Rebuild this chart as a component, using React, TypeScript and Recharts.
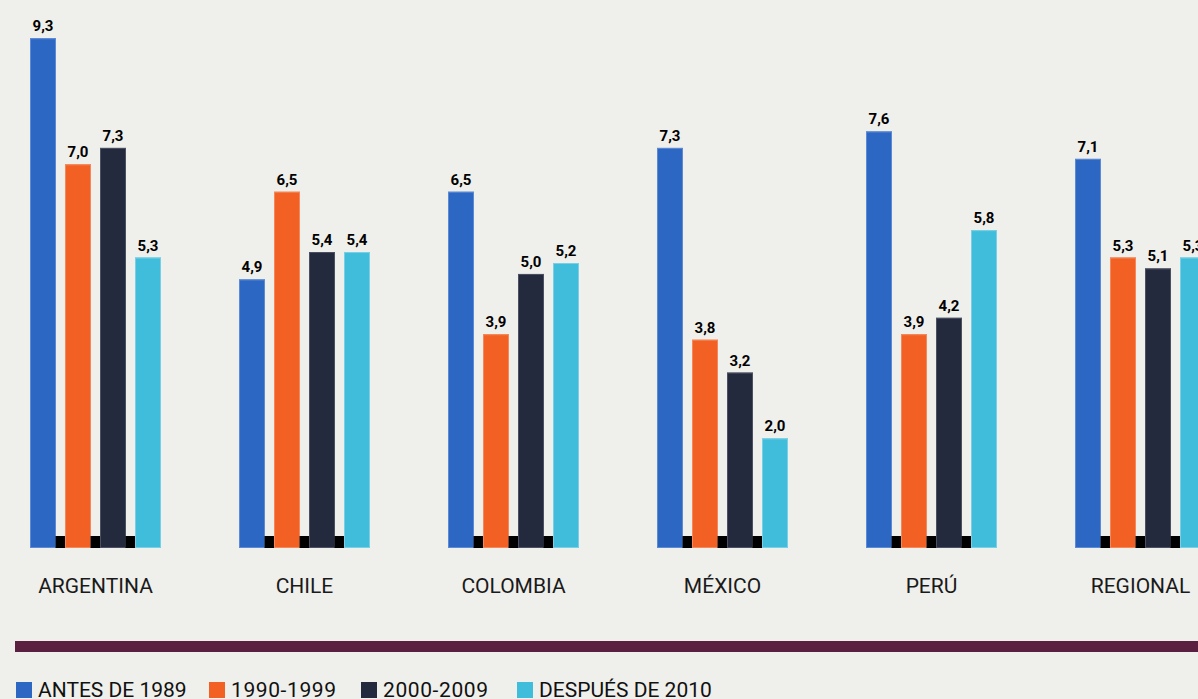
import React from 'react';
import { BarChart, Bar, XAxis, YAxis, LabelList } from 'recharts';

// Values
const countries = ['ARGENTINA', 'CHILE', 'COLOMBIA', 'MÉXICO', 'PERÚ', 'REGIONAL'];
const antes1989 = [9.3, 4.9, 6.5, 7.3, 7.6, 7.1];
const d1990 = [7.0, 6.5, 3.9, 3.8, 3.9, 5.3];
const d2000 = [7.3, 5.4, 5.0, 3.2, 4.2, 5.1];
const despues2010 = [5.3, 5.4, 5.2, 2.0, 5.8, 5.3];

const seriesNames = ['ANTES DE 1989', '1990-1999', '2000-2009', 'DESPUÉS DE 2010'];
const colors = ['#2d67c4', '#f26023', '#232a3d', '#41bddc'];
const edges = ['#5d8ad4', '#f5885a', '#4b5163', '#79d0e6'];

const data = countries.map((name, i) => ({
  name,
  s0: antes1989[i],
  s1: d1990[i],
  s2: d2000[i],
  s3: despues2010[i],
}));

const BAR_SIZE = 26;
const BAR_GAP = 9;
const FONT = 'Roboto, "Noto Sans", sans-serif';
// widths of the legend entries (square + text + spacing)
const legendWidths = [193, 152, 156, 200];

const fmt = (v: any) => Number(v).toFixed(1).replace('.', ',');

// bar with a small black block at its bottom-right (in the gap to the next bar)
const makeShape = (idx: number) => (props: any) => {
  const { x, y, width, height } = props;
  const base = y + height;
  return (
    <g>
      <rect x={x} y={y} width={width} height={height} fill={colors[idx]} />
      <rect x={x + 0.5} y={y + 0.5} width={width - 1} height={height - 1} fill="none" stroke={edges[idx]} strokeWidth={1} />
      {idx < 3 && <rect x={x + width - 0.5} y={base - 12} width={BAR_GAP + 1} height={12} fill="#000" />}
    </g>
  );
};

export default function App(): React.ReactElement {
  return (
    <div
      style={{
        position: 'fixed',
        left: 0,
        top: 0,
        width: 1198,
        height: 699,
        overflow: 'hidden',
        background: '#efefeb',
        fontFamily: FONT,
      }}
    >
      <div style={{ position: 'absolute', left: -9, top: 0 }}>
        <BarChart
          width={1254}
          height={600}
          data={data}
          margin={{ top: 35, right: 0, left: 0, bottom: 0 }}
          barSize={BAR_SIZE}
          barGap={BAR_GAP}
        >
          <XAxis
            dataKey="name"
            height={52}
            axisLine={false}
            tickLine={false}
            tickMargin={24}
            interval={0}
            tick={{ fill: '#1a1a1a', fontSize: 21, fontFamily: FONT }}
          />
          <YAxis hide domain={[0, 9.36]} />
          {['s0', 's1', 's2', 's3'].map((key, i) => (
            <Bar key={key} dataKey={key} name={seriesNames[i]} fill={colors[i]} shape={makeShape(i)} isAnimationActive={false}>
              <LabelList
                dataKey={key}
                position="top"
                offset={7}
                formatter={fmt}
                style={{ fill: '#000', fontSize: 15, fontWeight: 700, fontFamily: FONT }}
              />
            </Bar>
          ))}
        </BarChart>
      </div>

      <div style={{ position: 'absolute', left: 15, right: 0, top: 641, height: 11, background: '#5b1f40' }} />

      <div style={{ position: 'absolute', left: 16, top: 678, display: 'flex', alignItems: 'center', whiteSpace: 'nowrap' }}>
        {seriesNames.map((n, i) => (
          <div key={n} style={{ display: 'flex', alignItems: 'center', width: legendWidths[i] }}>
            <span style={{ display: 'inline-block', width: 16, height: 16, background: colors[i], marginRight: 6 }} />
            <span style={{ fontSize: 21, color: '#111', lineHeight: '24px', letterSpacing: i === 1 || i === 2 ? 0.6 : 0 }}>{n}</span>
          </div>
        ))}
      </div>
    </div>
  );
}
